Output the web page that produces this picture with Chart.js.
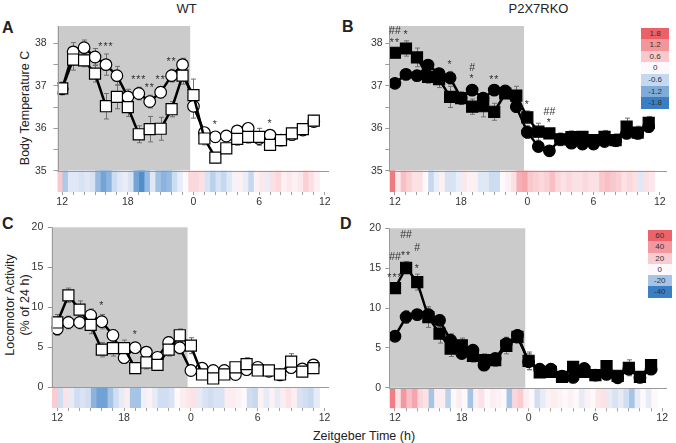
<!DOCTYPE html>
<html>
<head>
<meta charset="utf-8">
<title>Body temperature and locomotor activity, WT vs P2X7RKO</title>
<script src="https://cdn.jsdelivr.net/npm/chart.js@4.4.1/dist/chart.umd.min.js"></script>
<style>
  body { margin: 0; background: #fff; font-family: "Liberation Sans", Arial, sans-serif; color: #222; }
  #fig { position: relative; width: 676px; height: 443px; overflow: hidden; }
  #fig canvas { position: absolute; }
  .lbl { position: absolute; white-space: nowrap; line-height: 1; }
  .ctr { transform: translateX(-50%); }
  .big { font-weight: bold; font-size: 16px; }
  .ytitle { position: absolute; white-space: nowrap; text-align: center; transform: translate(-50%, -50%) rotate(-90deg); font-size: 12.5px; }
  .key { position: absolute; font-size: 8px; text-align: center; color: #333; }
</style>
</head>
<body>
<div id="fig">
  <div class="lbl ctr" style="left:186.5px;top:2px;font-size:13px">WT</div>
  <div class="lbl ctr" style="left:538.5px;top:2px;font-size:13px">P2X7RKO</div>
  <div class="lbl big" style="left:2px;top:20px">A</div>
  <div class="lbl big" style="left:342px;top:19px">B</div>
  <div class="lbl big" style="left:2px;top:216px">C</div>
  <div class="lbl big" style="left:340px;top:216px">D</div>
  <div class="ytitle" style="left:25px;top:107.5px">Body Temperature C</div>
  <div class="ytitle" style="left:17.5px;top:305px;line-height:15px">Locomotor Activity<br>(% of 24 h)</div>
  <div class="lbl ctr" style="left:364px;top:430px;font-size:12.5px">Zeitgeber Time (h)</div>

  <canvas id="chartA" width="338" height="215" style="left:0;top:0"></canvas>
  <canvas id="chartB" width="338" height="215" style="left:338px;top:0"></canvas>
  <canvas id="chartC" width="338" height="228" style="left:0;top:215px"></canvas>
  <canvas id="chartD" width="338" height="228" style="left:338px;top:215px"></canvas>

  <div id="keyB" class="key" style="left:641px;top:27.7px;width:28.3px"></div>
  <div id="keyD" class="key" style="left:647.5px;top:230px;width:24.5px"></div>
</div>

<script>
var FONT = '"Liberation Sans", Arial, sans-serif';

// ZT hours, one point per hour
var hours = [12, 13, 14, 15, 16, 17, 18, 19, 20, 21, 22, 23, 24, 25, 26, 27, 28, 29, 30, 31, 32, 33, 34, 35];
var tickHours = [12, 18, 24, 30, 36];
var tickLabels = ['12', '18', '0', '6', '12'];
var darkEnd = 23.7;        // end of the shaded dark phase
var heatStart = 11.55;     // heat strip: 48 half-hour bins
var heatStep = 0.5;

// colour keys (high -> low)
var tempKey = [1.8, 1.2, 0.6, 0, -0.6, -1.2, -1.8];
var tempKeyColors = [[236,96,102],[242,150,156],[249,200,205],[252,248,251],[196,216,239],[127,171,218],[58,127,196]];
var actKey = [60, 40, 20, 0, -20, -40];
var actKeyColors = [[236,100,106],[243,152,158],[250,204,209],[252,248,251],[166,196,230],[58,127,196]];

// A: WT body temperature
var wtTempCircle = [36.93, 37.80, 37.90, 37.68, 37.50, 37.24, 36.74, 36.82, 36.63, 36.85, 37.24, 37.50, 36.52, 35.90, 35.80, 35.82, 35.94, 36.00, 35.76, 35.84, 35.72, 35.85, 35.96, 36.16];
var wtTempCircleErr = [0.10, 0.22, 0.18, 0.20, 0.25, 0.22, 0.18, 0.15, 0.15, 0.13, 0.15, 0.15, 0.28, 0.10, 0.12, 0.10, 0.10, 0.12, 0.10, 0.10, 0.08, 0.10, 0.10, 0.12];
var wtTempSquare = [36.94, 37.62, 37.60, 37.29, 36.52, 36.74, 36.50, 35.86, 35.98, 35.99, 36.45, 37.24, 36.78, 35.76, 35.31, 35.53, 35.75, 35.80, 35.80, 35.61, 35.72, 35.88, 35.98, 36.18];
var wtTempSquareErr = [0.15, 0.25, 0.15, 0.20, 0.30, 0.28, 0.22, 0.20, 0.30, 0.27, 0.18, 0.20, 0.38, 0.15, 0.12, 0.12, 0.15, 0.15, 0.20, 0.10, 0.10, 0.12, 0.12, 0.12];
var wtTempHeat = [0.6, -0.8, -0.3, -0.3, -0.4, -0.3, -0.4, -1.0, -1.3, -1.1, -0.5, -0.3, -0.2, -0.4, -1.3, -1.6, -1.0, -0.3, -0.9, -1.1, -1.0, -0.5, -0.2, 0,
                  0.4, 0.4, 0.3, -0.4, -0.7, -0.4, -0.6, -0.3, -0.1, 0.1, -0.2, -0.6, 0.1, 0.2, -0.2, 0.3, 0.4, 0.1, 0.2, 0.1, 0.2, 0.5, 0.3, 0.1];
var wtTempNotes = [[4, '***'], [7, '***'], [8, '**'], [9, '**'], [10, '**'], [14, '*'], [19, '*']];

// B: P2X7RKO body temperature
var koTempCircle = [37.06, 37.27, 37.24, 37.49, 37.29, 37.19, 36.71, 36.90, 36.71, 36.90, 36.88, 36.51, 35.91, 35.57, 35.47, 35.74, 35.65, 35.63, 35.63, 35.69, 35.71, 35.88, 35.88, 36.04];
var koTempCircleErr = [0.05, 0.05, 0.05, 0.10, 0.10, 0.15, 0.10, 0.12, 0.10, 0.10, 0.08, 0.10, 0.15, 0.10, 0.08, 0.10, 0.10, 0.08, 0.08, 0.08, 0.10, 0.12, 0.10, 0.10];
var koTempSquare = [37.78, 37.88, 37.67, 37.21, 37.16, 36.74, 36.71, 36.51, 36.52, 36.39, 36.82, 36.77, 36.26, 35.92, 35.88, 35.74, 35.79, 35.80, 35.72, 35.80, 35.72, 36.04, 35.90, 36.13];
var koTempSquareErr = [0.10, 0.18, 0.22, 0.15, 0.20, 0.25, 0.15, 0.18, 0.25, 0.20, 0.10, 0.22, 0.15, 0.20, 0.10, 0.15, 0.15, 0.12, 0.12, 0.15, 0.15, 0.20, 0.15, 0.15];
var koTempHeat = [1.5, 0.2, 0.7, 0.5, 0.3, 0.3, 0, -0.6, -0.2, 0.1, -0.4, -0.4, -0.2, 0.2, 0.1, 0.1, -0.3, -0.3, -0.5, -0.5, 0, 0.1, 0.3, 0.9,
                  1.0, 0.6, 0.5, 0.4, 0.5, 0.7, 0.4, 0.3, 0.4, 0.3, 0.3, 0.4, 0.3, 0.3, 0.6, 0.7, 0.6, 0.5, 0.3, 0.4, 0.3, -0.3, 0.3, 0.2];
var koTempNotes = [[0, '**', '##'], [1, '*'], [5, '*'], [7, '*', '#'], [9, '**'], [12, '*'], [14, '*', '##']];

// C: WT locomotor activity
var wtActCircle = [7.3, 8.1, 8.1, 9.0, 8.2, 6.5, 3.7, 4.95, 4.4, 3.75, 5.6, 4.95, 2.1, 2.4, 2.1, 2.1, 1.6, 2.2, 2.5, 2.0, 1.55, 2.45, 2.3, 2.8];
var wtActCircleErr = [0.8, 0.8, 0.8, 0.8, 0.9, 0.7, 0.6, 0.6, 0.6, 0.5, 0.7, 0.8, 0.5, 0.4, 0.4, 0.4, 0.4, 0.5, 0.5, 0.4, 0.3, 0.5, 0.4, 0.4];
var wtActSquare = [8.1, 11.5, 9.7, 7.8, 4.7, 4.9, 4.9, 2.4, 3.1, 2.8, 4.7, 6.5, 5.2, 1.6, 1.1, 1.6, 2.5, 2.9, 2.1, 2.1, 1.6, 3.2, 1.95, 2.4];
var wtActSquareErr = [1.0, 0.9, 1.1, 1.1, 0.9, 1.0, 1.0, 0.6, 0.8, 0.6, 0.8, 0.8, 1.0, 0.5, 0.4, 0.4, 0.5, 0.8, 0.6, 0.5, 0.4, 1.0, 0.5, 0.5];
var wtActHeat = [20, -10, 10, -5, -10, -8, -10, -25, -30, -30, -20, -10, -5, 5, -20, -20, -3, 3, -5, -10, -10, -8, 0, 5,
                 8, 10, -5, -8, -10, -8, -8, 5, 5, 3, 0, -10, -12, 3, -5, 3, -5, 5, 10, 5, -8, -10, -12, -5];
var wtActNotes = [[4, '*'], [7, '*']];

// D: P2X7RKO locomotor activity
var koActCircle = [6.46, 8.87, 9.17, 9.17, 8.46, 5.96, 4.29, 4.71, 2.83, 3.67, 5.54, 6.58, 3.25, 2.33, 2.33, 1.46, 1.29, 2.42, 1.58, 1.67, 1.25, 2.33, 1.29, 2.33];
var koActCircleErr = [0.6, 0.8, 0.5, 0.8, 0.7, 0.8, 0.6, 0.6, 0.6, 0.6, 0.8, 0.7, 1.0, 0.5, 0.5, 0.4, 0.4, 0.5, 0.4, 0.5, 0.4, 0.5, 0.4, 0.5];
var koActSquare = [12.5, 15.05, 13.25, 8.87, 6.8, 4.92, 5.33, 4.0, 3.46, 3.46, 5.25, 6.37, 3.38, 1.92, 2.0, 1.37, 2.62, 2.0, 1.58, 2.71, 1.5, 2.5, 1.37, 2.83];
var koActSquareErr = [0.6, 0.8, 1.0, 1.3, 1.2, 1.0, 0.9, 0.8, 0.8, 0.8, 1.0, 0.8, 1.1, 0.6, 0.6, 0.4, 0.6, 0.6, 0.4, 0.7, 0.4, 1.0, 0.5, 0.6];
var koActHeat = [50, 10, 40, 25, 35, 15, 10, -20, 5, 5, -15, 0, 5, 0, -20, 5, 10, 0, 5, 3, 0, -20, 15, 20,
                 5, 0, -10, -5, 3, 5, 3, 0, 3, 0, -5, 3, 0, 8, 10, -5, -8, -5, -10, -20, -5, 0, -5, 0];
var koActNotes = [[0, '***', '##'], [1, '**', '##'], [2, '*', '#']];

function rgb(c) {
  return 'rgb(' + Math.round(c[0]) + ',' + Math.round(c[1]) + ',' + Math.round(c[2]) + ')';
}

// map a value onto the colour key (linear between key steps)
function heatColor(v, key, cols) {
  if (v >= key[0]) return rgb(cols[0]);
  for (var i = 1; i < key.length; i++) {
    if (v >= key[i]) {
      var t = (v - key[i]) / (key[i - 1] - key[i]);
      var a = cols[i], b = cols[i - 1];
      return rgb([a[0] + (b[0] - a[0]) * t, a[1] + (b[1] - a[1]) * t, a[2] + (b[2] - a[2]) * t]);
    }
  }
  return rgb(cols[cols.length - 1]);
}

var panels = {};

var panelDecor = {
  id: 'panelDecor',
  beforeDraw: function (chart) {
    var p = panels[chart.canvas.id];
    var c = chart.ctx, a = chart.chartArea, x = chart.scales.x, y = chart.scales.y;
    c.save();
    c.fillStyle = '#cbcbcb';
    c.fillRect(a.left, a.top, x.getPixelForValue(darkEnd) - a.left, y.getPixelForValue(p.base) - a.top);
    c.restore();
  },
  beforeDatasetsDraw: function (chart) {
    var p = panels[chart.canvas.id];
    var c = chart.ctx, x = chart.scales.x, y = chart.scales.y;
    c.save();
    c.strokeStyle = '#707070';
    c.lineWidth = 1;
    [[p.square, p.squareErr], [p.circle, p.circleErr]].forEach(function (s) {
      hours.forEach(function (h, i) {
        var px = Math.round(x.getPixelForValue(h)) + 0.5;
        var hi = y.getPixelForValue(s[0][i] + s[1][i]);
        var lo = y.getPixelForValue(s[0][i] - s[1][i]);
        c.beginPath();
        c.moveTo(px, hi); c.lineTo(px, lo);
        c.moveTo(px - 2.5, hi); c.lineTo(px + 2.5, hi);
        c.moveTo(px - 2.5, lo); c.lineTo(px + 2.5, lo);
        c.stroke();
      });
    });
    c.restore();
  },
  afterDatasetsDraw: function (chart) {
    var p = panels[chart.canvas.id];
    var c = chart.ctx, a = chart.chartArea, x = chart.scales.x, y = chart.scales.y;
    var yb = Math.round(y.getPixelForValue(p.base)) + 0.5;
    c.save();
    c.strokeStyle = '#9a9a9a';
    c.lineWidth = 1;
    c.beginPath();
    c.moveTo(Math.round(a.left) + 0.5, a.top);
    c.lineTo(Math.round(a.left) + 0.5, yb);
    c.moveTo(a.left, yb);
    c.lineTo(a.right, yb);
    c.stroke();

    // significance marks
    c.fillStyle = '#333';
    c.font = '10.5px ' + FONT;
    c.textAlign = 'center';
    c.textBaseline = 'alphabetic';
    p.notes.forEach(function (n) {
      var i = n[0];
      var top = Math.min(y.getPixelForValue(p.square[i] + p.squareErr[i]),
                         y.getPixelForValue(p.circle[i] + p.circleErr[i]));
      var cy = top - p.noteOff;
      for (var k = 1; k < n.length; k++) {
        var txt = n[k];
        c.letterSpacing = txt.charAt(0) === '*' ? '1px' : '0px';
        var base = cy + (txt.charAt(0) === '*' ? 6 : 3.7);
        c.fillText(txt, x.getPixelForValue(hours[i]), base);
        cy -= p.noteGap;
      }
    });
    c.restore();
  }
};

function makePanel(p) {
  panels[p.id] = p;
  var sqPts = hours.map(function (h, i) { return { x: h, y: p.square[i] }; });
  var ciPts = hours.map(function (h, i) { return { x: h, y: p.circle[i] }; });
  var heatPts = p.heat.map(function (v, i) { return { x: heatStart + heatStep * (i + 0.5), y: [p.yMin, p.base] }; });
  var heatCols = p.heat.map(function (v) { return heatColor(v, p.key, p.keyColors); });

  return new Chart(document.getElementById(p.id), {
    type: 'line',
    plugins: [panelDecor],
    data: {
      datasets: [
        { type: 'line', data: sqPts, borderColor: '#000', borderWidth: 2.5, fill: false, tension: 0,
          pointStyle: 'rect', pointRadius: 7.8, pointBackgroundColor: p.fill,
          pointBorderColor: '#000', pointBorderWidth: 1.2 },
        { type: 'line', data: ciPts, borderColor: '#000', borderWidth: 2.5, fill: false, tension: 0,
          pointStyle: 'circle', pointRadius: 5.8, pointBackgroundColor: p.fill,
          pointBorderColor: '#000', pointBorderWidth: 1.2 },
        { type: 'bar', data: heatPts, backgroundColor: heatCols, borderWidth: 0,
          barPercentage: 1, categoryPercentage: 1, grouped: false }
      ]
    },
    options: {
      responsive: false,
      animation: false,
      devicePixelRatio: 1,
      layout: { padding: p.pad },
      events: [],
      plugins: { legend: { display: false }, tooltip: { enabled: false } },
      scales: {
        x: {
          type: 'linear', min: p.xMin, max: p.xMax, offset: false,
          afterBuildTicks: function (s) {
            var t = [];
            for (var h = Math.ceil(p.xMin); h <= p.xMax; h++) t.push({ value: h });
            s.ticks = t;
          },
          afterFit: function (s) { s.height = p.xAxisH; },
          ticks: {
            autoSkip: false, maxRotation: 0, padding: 1, color: '#333',
            font: { size: 10.5, family: FONT },
            callback: function (v) {
              var k = tickHours.indexOf(v);
              return k >= 0 ? tickLabels[k] : '';
            }
          },
          grid: { offset: false, drawOnChartArea: false, tickLength: 3, color: '#a0a0a0', tickColor: '#a0a0a0' },
          border: { display: false }
        },
        y: {
          min: p.yMin, max: p.yMax, beginAtZero: false,
          afterBuildTicks: function (s) {
            s.ticks = p.yTicks.map(function (v) { return { value: v }; });
          },
          afterFit: function (s) { s.width = p.yAxisW; },
          ticks: {
            padding: p.tickPad, color: '#333',
            font: { size: 10.5, family: FONT },
            callback: function (v) { return p.yLabels.indexOf(v) >= 0 ? String(v) : ''; }
          },
          grid: { drawOnChartArea: false, tickLength: 4, color: '#9a9a9a', tickColor: '#9a9a9a' },
          border: { display: false }
        }
      }
    }
  });
}

var tempTicks = [35, 35.5, 36, 36.5, 37, 37.5, 38];
var tempLabels = [35, 36, 37, 38];
var actTicks = [0, 5, 10, 15, 20];

makePanel({ id: 'chartA', circle: wtTempCircle, circleErr: wtTempCircleErr, square: wtTempSquare, squareErr: wtTempSquareErr,
  heat: wtTempHeat, notes: wtTempNotes, key: tempKey, keyColors: tempKeyColors, fill: '#fff',
  base: 35, yMin: 34.5, yMax: 38.41, yTicks: tempTicks, yLabels: tempLabels,
  xMin: 11.57, xMax: 36.39, pad: { top: 26, right: 5, left: 0, bottom: 0 }, yAxisW: 57.5, xAxisH: 23,
  tickPad: 6.8, noteOff: 10, noteGap: 10 });

makePanel({ id: 'chartB', circle: koTempCircle, circleErr: koTempCircleErr, square: koTempSquare, squareErr: koTempSquareErr,
  heat: koTempHeat, notes: koTempNotes, key: tempKey, keyColors: tempKeyColors, fill: '#000',
  base: 35, yMin: 34.5, yMax: 38.41, yTicks: tempTicks, yLabels: tempLabels,
  xMin: 11.49, xMax: 36.66, pad: { top: 26, right: 6.7, left: 0, bottom: 0 }, yAxisW: 51.3, xAxisH: 23,
  tickPad: 2.6, noteOff: 9, noteGap: 9 });

makePanel({ id: 'chartC', circle: wtActCircle, circleErr: wtActCircleErr, square: wtActSquare, squareErr: wtActSquareErr,
  heat: wtActHeat, notes: wtActNotes, key: actKey, keyColors: actKeyColors, fill: '#fff',
  base: 0, yMin: -2.59, yMax: 20, yTicks: actTicks, yLabels: actTicks,
  xMin: 11.5, xMax: 36.4, pad: { top: 12.3, right: 5, left: 0, bottom: 0 }, yAxisW: 51.7, xAxisH: 35,
  tickPad: 4.4, noteOff: 11, noteGap: 10 });

makePanel({ id: 'chartD', circle: koActCircle, circleErr: koActCircleErr, square: koActSquare, squareErr: koActSquareErr,
  heat: koActHeat, notes: koActNotes, key: actKey, keyColors: actKeyColors, fill: '#000',
  base: 0, yMin: -2.58, yMax: 20, yTicks: actTicks, yLabels: actTicks,
  xMin: 11.49, xMax: 36.43, pad: { top: 13.3, right: 6.7, left: 0, bottom: 0 }, yAxisW: 51.3, xAxisH: 34.7,
  tickPad: 4.3, noteOff: 8, noteGap: 19 });

// colour keys
function buildKey(elId, key, cols, rowH) {
  var el = document.getElementById(elId);
  key.forEach(function (v, i) {
    var row = document.createElement('div');
    row.style.height = rowH + 'px';
    row.style.lineHeight = rowH + 'px';
    row.style.background = rgb(cols[i]);
    row.textContent = String(v);
    el.appendChild(row);
  });
}
buildKey('keyB', tempKey, tempKeyColors, 11.6);
buildKey('keyD', actKey, actKeyColors, 11.3);
</script>
</body>
</html>
